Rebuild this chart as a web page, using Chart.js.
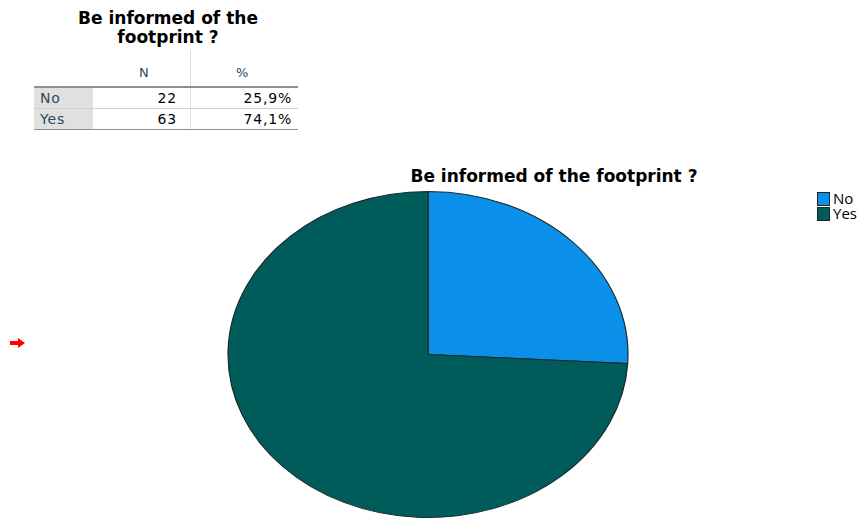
<!DOCTYPE html>
<html><head><meta charset="utf-8">
<script src="https://cdn.jsdelivr.net/npm/chart.js@4/dist/chart.umd.min.js"></script>
<style>
html,body{margin:0;padding:0;background:#fff;}
body{width:861px;height:520px;position:relative;overflow:hidden;font-family:"DejaVu Sans",sans-serif;}
#ttitle{position:absolute;left:50px;top:9px;width:236px;text-align:center;font-weight:bold;font-size:17px;line-height:19px;color:#000;}
#tbl{position:absolute;left:34px;top:50px;width:264px;font-size:14px;letter-spacing:0.8px;}
.hdr{position:absolute;top:15px;color:#264a60;font-size:13px;}
.row{position:absolute;left:0;width:264px;height:20px;}
.lab{position:absolute;left:0;top:0;width:59px;height:20px;background:#e0e0e0;color:#264a60;line-height:20px;padding-left:6px;box-sizing:border-box;}
.c1{position:absolute;left:59px;width:97px;height:20px;line-height:20px;text-align:right;padding-right:13px;box-sizing:border-box;color:#010205;}
.c2{position:absolute;left:156px;width:108px;height:20px;line-height:20px;text-align:right;padding-right:6px;box-sizing:border-box;color:#010205;border-left:1px solid #e0e0e0;}
#vdiv{position:absolute;left:156px;top:0;width:1px;height:36px;background:#dcdcdc;}
#ctitle{position:absolute;left:380px;top:166px;width:348px;text-align:center;font-weight:bold;font-size:17px;color:#000;}
#legend{position:absolute;left:817px;top:191px;font-family:"Open Sans",sans-serif;font-size:15px;line-height:15px;color:#000;}
.li{display:flex;align-items:center;height:15px;}
.sw{width:11px;height:12px;border:1px solid #222;margin-right:3px;}
#arrow{position:absolute;left:10px;top:338px;}
#wrap{position:absolute;left:0;top:191px;width:861px;height:327px;}
</style></head>
<body>
<div id="ttitle">Be informed of the<br>footprint ?</div>
<div id="tbl"></div>
<div id="ctitle"></div>
<div id="legend"></div>
<svg id="arrow" width="16" height="10" viewBox="0 0 16 10"><path d="M0 3 H8 V0 L15 5 L8 10 V7 H0 Z" fill="#f00"/></svg>
<div id="wrap"><canvas id="c"></canvas></div>
<script>
const title = "Be informed of the footprint ?";
const categories = ["No", "Yes"];
const counts = [22, 63];
const percents = ["25,9%", "74,1%"];
const colors = ["#0a90e8", "#005b5b"];

// table
const tbl = document.getElementById('tbl');
let html = '<div id="vdiv"></div><div class="hdr" style="left:105px">N</div><div class="hdr" style="left:202px">%</div>';
html += '<div style="position:absolute;left:0;top:36px;width:264px;height:2px;background:#8a8f94"></div>';
categories.forEach((c,i)=>{
  const top = 38 + i*21;
  html += `<div class="row" style="top:${top}px"><div class="lab">${c}</div><div class="c1">${counts[i]}</div><div class="c2">${percents[i]}</div></div>`;
  html += `<div style="position:absolute;left:0;top:${top+20}px;width:264px;height:1px;background:${i===categories.length-1?'#8a8f94':'#d0d0d0'}"></div>`;
});
tbl.innerHTML = html;
document.getElementById('ctitle').textContent = title;
document.getElementById('legend').innerHTML = categories.map((c,i)=>`<div class="li"><span class="sw" style="background:${colors[i]}"></span>${c}</div>`).join('');

const stretch = {
  id: 'stretch',
  beforeDatasetsDraw(chart){
    const a = chart.getDatasetMeta(0).data[0];
    const ctx = chart.ctx;
    ctx.save();
    ctx.translate(a.x, a.y);
    ctx.scale(200/163, 1);
    ctx.translate(-a.x, -a.y);
  },
  afterDatasetsDraw(chart){ chart.ctx.restore(); }
};

new Chart(document.getElementById('c'), {
  type: 'pie',
  data: { labels: categories, datasets: [{ data: counts, backgroundColor: colors, borderColor: '#1a2a2a', borderWidth: 1 }] },
  options: {
    responsive: true, maintainAspectRatio: false, animation: false,
    layout: { padding: { left: 0, right: 5, top: 0, bottom: 0 } },
    plugins: { legend: { display: false }, title: { display: false }, tooltip: { enabled: false } }
  },
  plugins: [stretch]
});
</script>
</body></html>
